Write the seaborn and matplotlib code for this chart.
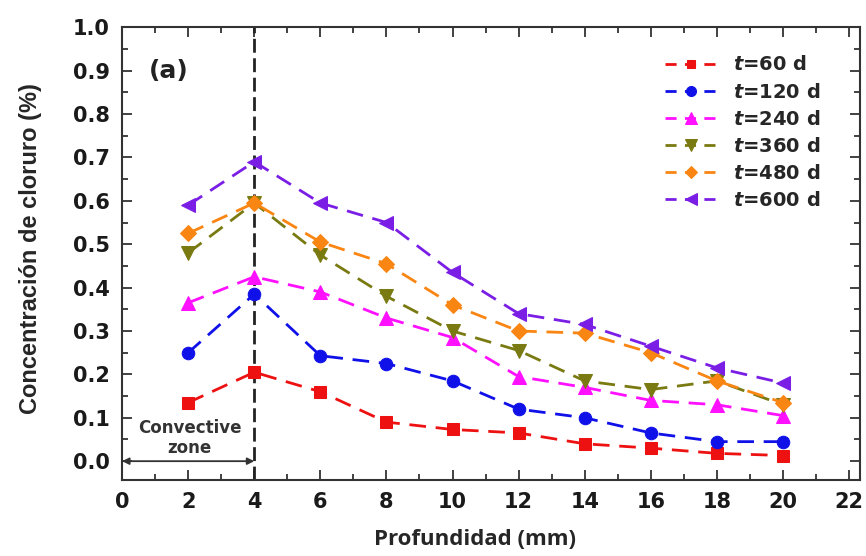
import numpy as np
import pandas as pd
import matplotlib
matplotlib.use('Agg')
import matplotlib.pyplot as plt
from matplotlib.ticker import MultipleLocator, FormatStrFormatter
import seaborn as sns

# depth (mm) and chloride concentration (%) for each exposure time
depth = [2, 4, 6, 8, 10, 12, 14, 16, 18, 20]
t60 = [0.135, 0.205, 0.160, 0.090, 0.073, 0.065, 0.040, 0.030, 0.018, 0.013]
t120 = [0.250, 0.385, 0.243, 0.225, 0.185, 0.120, 0.100, 0.065, 0.045, 0.045]
t240 = [0.365, 0.425, 0.390, 0.330, 0.285, 0.195, 0.170, 0.140, 0.130, 0.105]
t360 = [0.480, 0.595, 0.475, 0.380, 0.300, 0.255, 0.185, 0.165, 0.185, 0.130]
t480 = [0.525, 0.595, 0.505, 0.455, 0.360, 0.300, 0.295, 0.250, 0.185, 0.135]
t600 = [0.590, 0.690, 0.595, 0.550, 0.435, 0.340, 0.315, 0.265, 0.215, 0.180]
labels = ['60', '120', '240', '360', '480', '600']

series = [t60, t120, t240, t360, t480, t600]
colors = ['#ee1111', '#1010e8', '#ff10ff', '#7a7a12', '#f98512', '#7a1ee6']
markers = ['s', 'o', '^', 'v', 'D', '<']
msizes = [8, 9, 10, 10, 8, 10]

sns.set_style('ticks')
plt.rcParams['font.family'] = ['DejaVu Sans']
plt.rcParams['mathtext.fontset'] = 'custom'
plt.rcParams['mathtext.it'] = 'DejaVu Sans:bold:italic'

fig, ax = plt.subplots(figsize=(8.66, 5.56), dpi=100)
fig.subplots_adjust(left=0.141, right=0.993, top=0.951, bottom=0.137)

for vals, lab, c, m, ms in zip(series, labels, colors, markers, msizes):
    df = pd.DataFrame({'x': depth, 'y': vals})
    sns.lineplot(data=df, x='x', y='y', ax=ax, color=c, marker=m, markersize=ms,
                 markeredgecolor=c, linewidth=2, dashes=False,
                 label=r'$\mathit{t}$=' + lab + ' d')
for line in ax.get_lines():
    line.set_linestyle((0, (6, 3.5)))

ax.axvline(4, color='#222222', linewidth=2, linestyle=(0, (5, 2)), zorder=1)
ax.annotate('', xy=(0.0, 0.0), xytext=(4.0, 0.0),
            arrowprops=dict(arrowstyle='<|-|>', color='#333333', lw=1.3,
                            mutation_scale=10, shrinkA=0, shrinkB=0))
ax.text(2.05, 0.077, 'Convective', ha='center', va='center', fontsize=12,
        fontweight='bold', color='#333333')
ax.text(2.05, 0.03, 'zone', ha='center', va='center', fontsize=12,
        fontweight='bold', color='#333333')
ax.text(0.8, 0.9, '(a)', ha='left', va='center', fontsize=18, fontweight='bold',
        color='#222222')

ax.set_xlim(0, 22.33)
ax.set_ylim(-0.043, 1.0)
ax.xaxis.set_major_locator(MultipleLocator(2))
ax.xaxis.set_minor_locator(MultipleLocator(1))
ax.yaxis.set_major_locator(MultipleLocator(0.1))
ax.yaxis.set_minor_locator(MultipleLocator(0.05))
ax.yaxis.set_major_formatter(FormatStrFormatter('%.1f'))
ax.tick_params(which='both', direction='in', top=True, right=True, width=1.3,
               color='#333333', labelcolor='#1a1a1a')
ax.tick_params(which='major', length=7, labelsize=15, pad=9)
ax.tick_params(which='minor', length=4)
for lbl in ax.get_xticklabels() + ax.get_yticklabels():
    lbl.set_fontweight('bold')
for sp in ax.spines.values():
    sp.set_linewidth(1.5)
    sp.set_color('#333333')

ax.set_xlabel('Profundidad (mm)', fontsize=16, fontweight='bold',
              family=['Open Sans', 'DejaVu Sans'])
ax.xaxis.set_label_coords(0.478, -0.108)
ax.set_ylabel('Concentración de cloruro (%)', fontsize=17, fontweight='bold',
              family=['Liberation Sans', 'DejaVu Sans'])
ax.yaxis.set_label_coords(-0.108, 0.51)

leg = ax.legend(loc='upper left', bbox_to_anchor=(0.725, 0.955), frameon=False,
                fontsize=14, handlelength=2.7, labelspacing=0.42, borderaxespad=0,
                handletextpad=0.8, markerscale=0.8)
for txt in leg.get_texts():
    txt.set_fontweight('bold')
for h in leg.get_lines():
    h.set_linestyle((0, (4, 3)))

fig.savefig('out.png', dpi=100)
